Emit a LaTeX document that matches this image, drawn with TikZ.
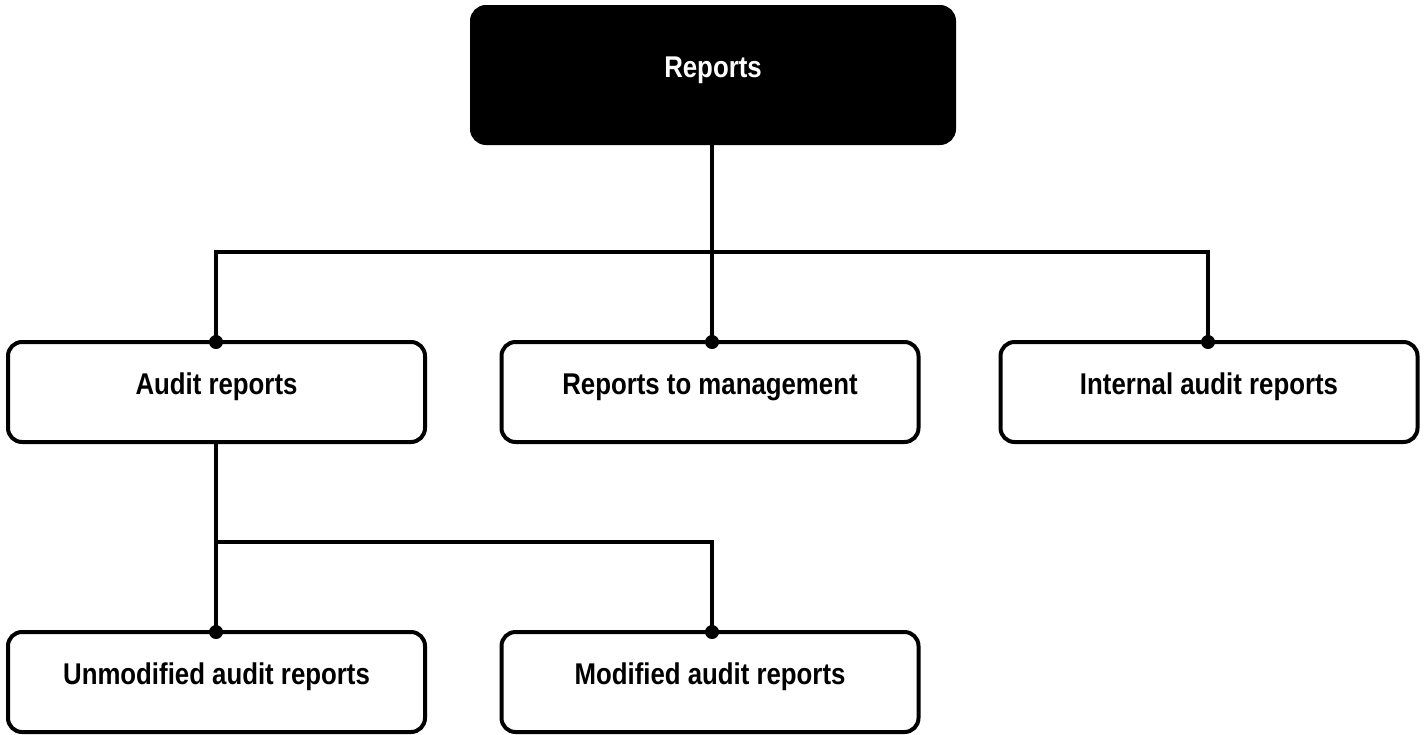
\documentclass[tikz,border=0pt]{standalone}
\usepackage{fontspec}
\newfontfamily\boxfont{Liberation Sans}[FakeStretch=0.86]
\begin{document}
\begin{tikzpicture}[x=1pt,y=-1pt,
  box/.style={draw=black, line width=4pt, rounded corners=14pt, fill=white,
    minimum width=417pt, minimum height=100pt, inner sep=0pt},
  topbox/.style={box, fill=black, minimum width=482pt, minimum height=136pt},
  txt/.style={font=\boxfont\bfseries\fontsize{30}{36}\selectfont, yshift=5pt, inner sep=0pt},
  conn/.style={line width=4pt, line cap=butt, line join=miter},
  dot/.style={fill=black}
]
\useasboundingbox (0,0) rectangle (1426,734);

\node[topbox, label={[txt, text=white]center:Reports}] (rep) at (713,75) {};
\node[box, label={[txt]center:Audit reports}] (aud) at (216.5,392) {};
\node[box, label={[txt]center:Reports to management}] (mgmt) at (710,392) {};
\node[box, label={[txt]center:Internal audit reports}] (int) at (1209,392) {};
\node[box, label={[txt]center:Unmodified audit reports}] (unm) at (216.5,682) {};
\node[box, label={[txt]center:Modified audit reports}] (mod) at (710,682) {};

\coordinate (b1) at (216,252);
\coordinate (b3) at (1208,252);
\coordinate (c1) at (216,542);
\coordinate (c2) at (712,542);

\coordinate (p1) at (216,342);
\coordinate (p2) at (712,342);
\coordinate (p3) at (1208,342);
\coordinate (q1) at (216,632);
\coordinate (q2) at (712,632);

\draw[conn] (rep.south -| p2) -- (p2);
\draw[conn] (p1) -- (b1) -- (b3) -- (p3);
\draw[conn] (aud.south -| p1) -- (q1);
\draw[conn] (c1) -- (c2) -- (q2);

\foreach \p in {p1,p2,p3,q1,q2}
  \fill[dot] (\p) circle (7);
\end{tikzpicture}
\end{document}
